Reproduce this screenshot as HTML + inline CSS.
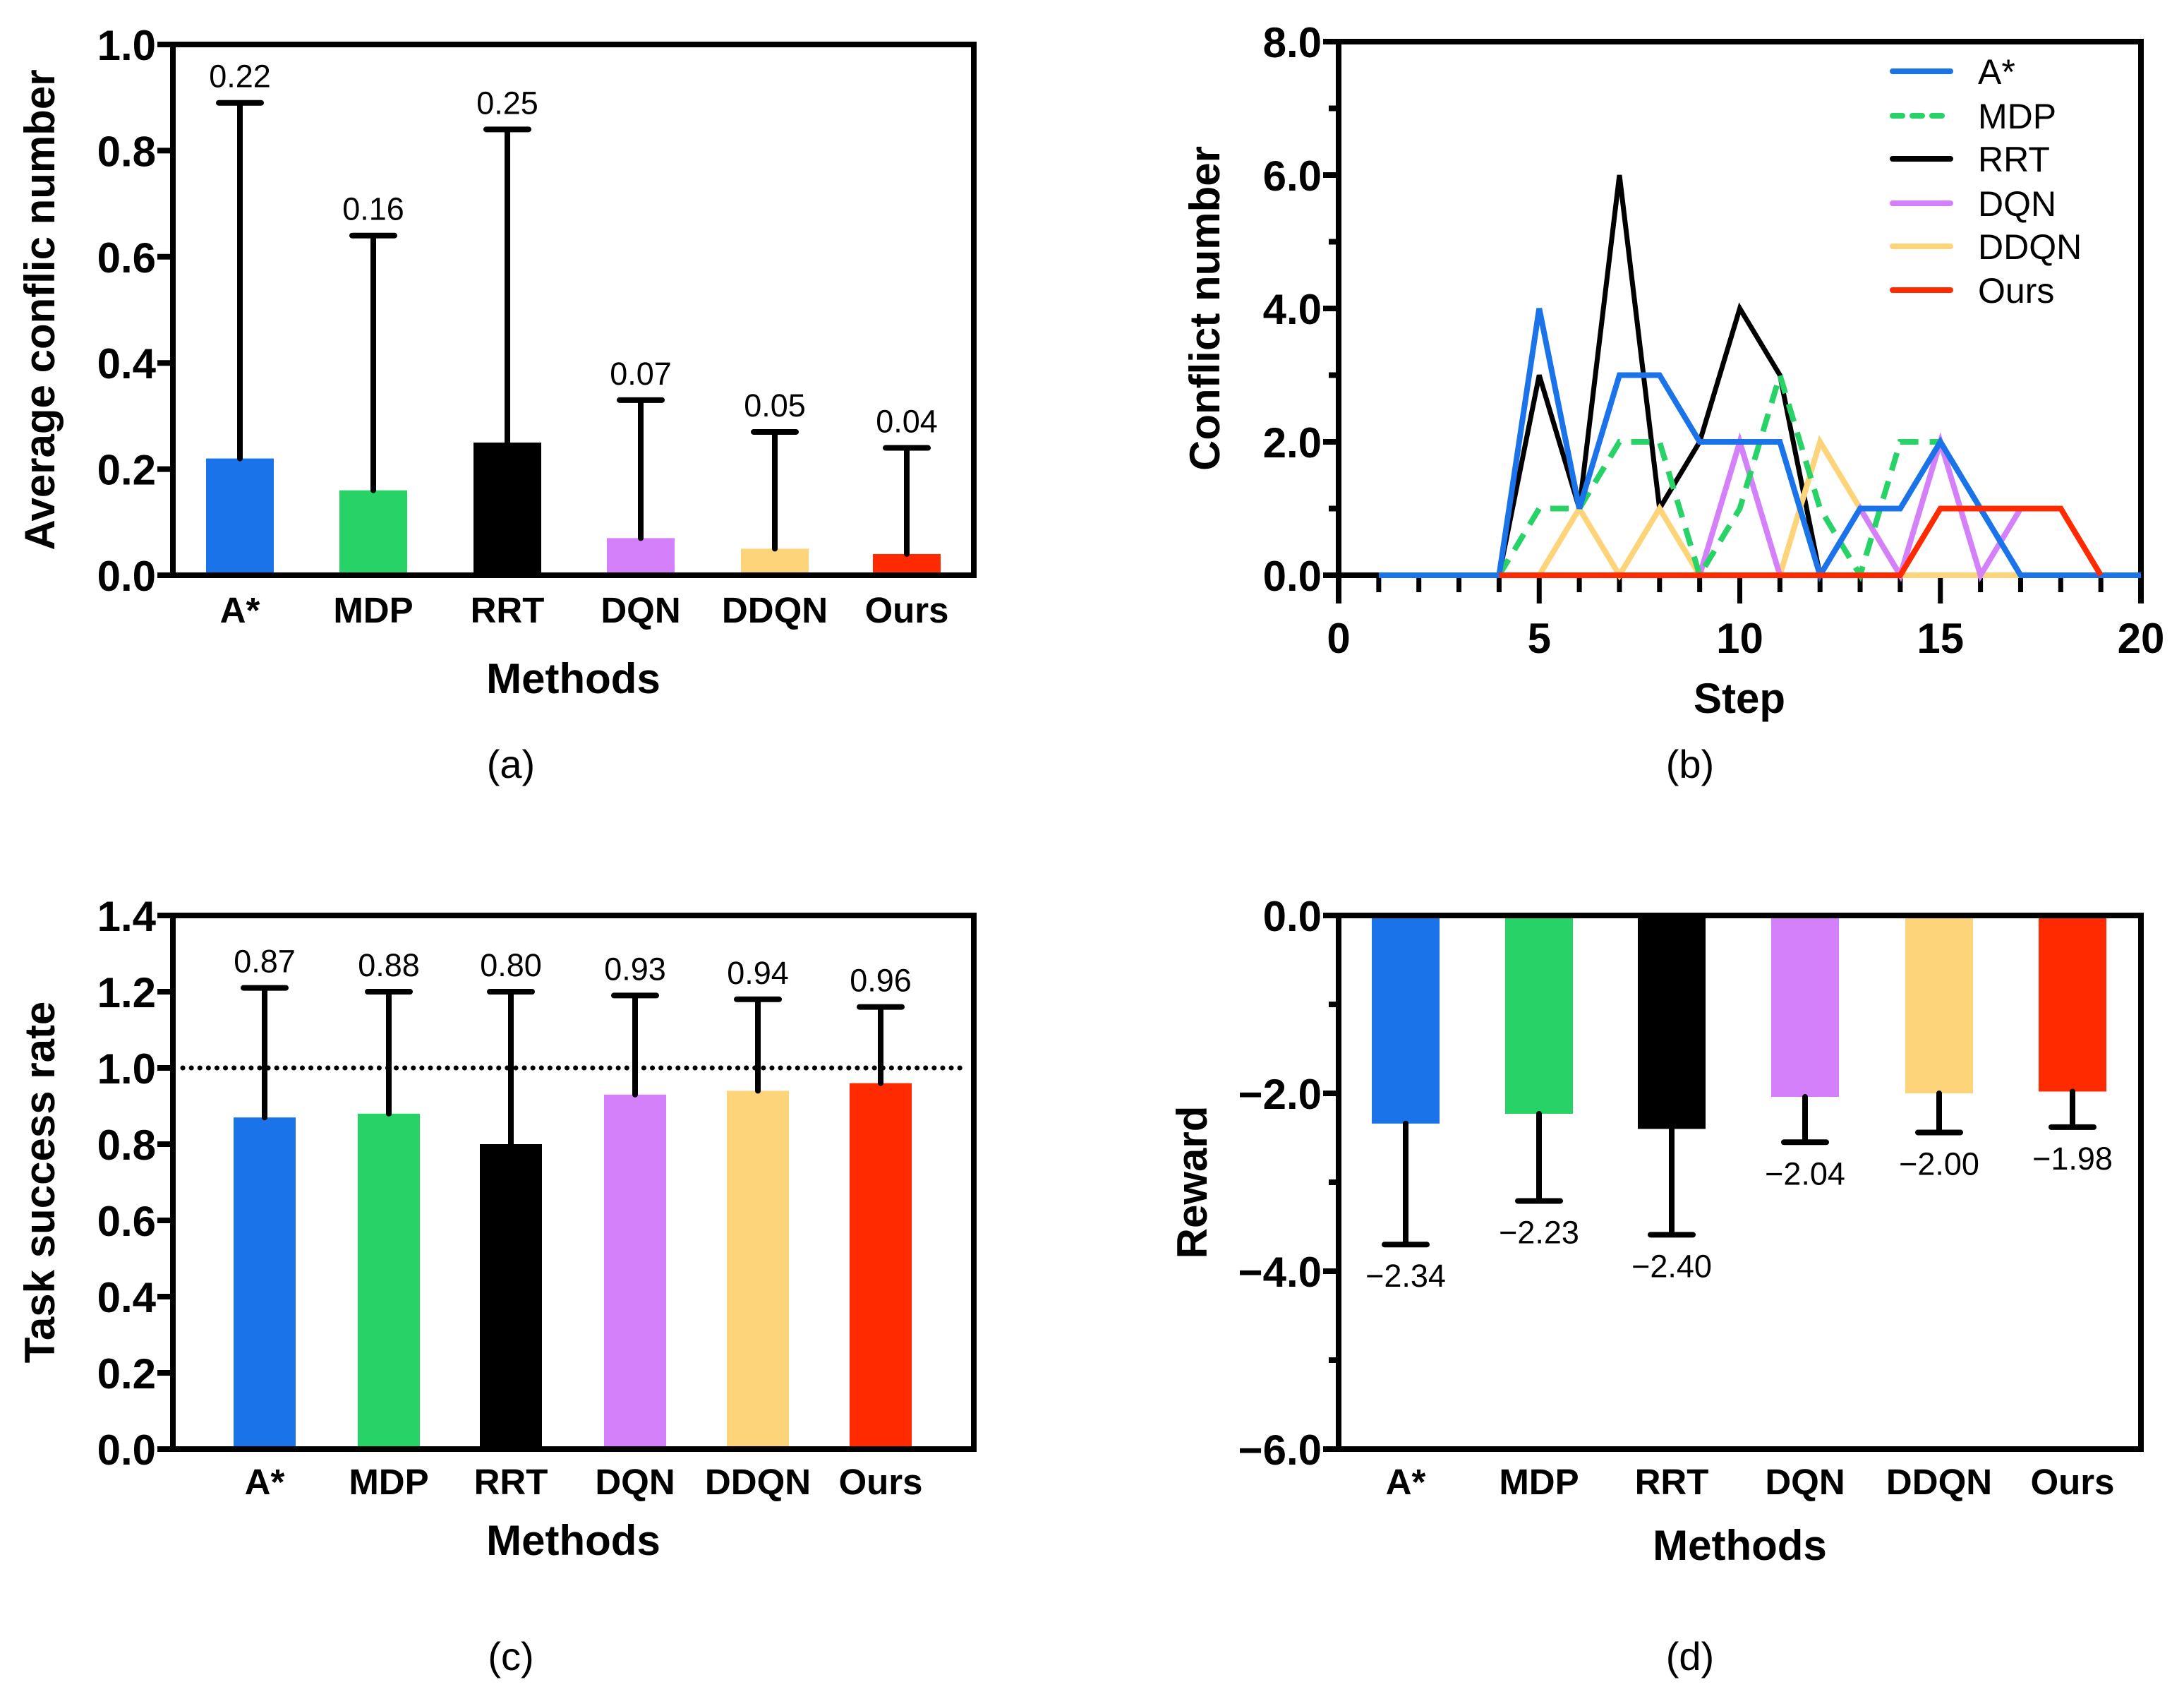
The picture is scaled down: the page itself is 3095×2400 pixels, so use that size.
<!DOCTYPE html>
<html><head><meta charset="utf-8"><style>
html,body{margin:0;padding:0;background:#fff}
svg{display:block}
text{font-family:"Liberation Sans",Arial,sans-serif}
</style></head><body>
<svg id="fig" width="3095" height="2400" viewBox="0 0 3095 2400" xmlns="http://www.w3.org/2000/svg"></svg>
<script>
const methods = ["A*","MDP","RRT","DQN","DDQN","Ours"];
const colors = ["#1a73e8","#27d366","#000000","#d580fb","#fed47a","#ff2a00"];
// (a)
const conflictMean = [0.22,0.16,0.25,0.07,0.05,0.04];
const conflictErrTop = [0.89,0.64,0.84,0.33,0.27,0.24];
const conflictTicks = ["0.0","0.2","0.4","0.6","0.8","1.0"];
// (c)
const successMean = [0.87,0.88,0.80,0.93,0.94,0.96];
const successErrTop = [1.21,1.20,1.20,1.19,1.18,1.16];
const successTicks = ["0.0","0.2","0.4","0.6","0.8","1.0","1.2","1.4"];
// (d)
const rewardMean = [-2.34,-2.23,-2.40,-2.04,-2.00,-1.98];
const rewardErrBottom = [-3.70,-3.21,-3.59,-2.55,-2.44,-2.38];
const rewardTicks = ["0.0","-2.0","-4.0","-6.0"];
// (b)
const lineNames = ["A*","MDP","RRT","DQN","DDQN","Ours"];
const stepsA = [1,2,3,4,5,6,7,8,9,10,11,12,13,14,15,16,17,18,19,20];
const valsA  = [0,0,0,0,4,1,3,3,2,2,2,0,1,1,2,1,0,0,0,0];
const stepsMDP = [4,5,6,7,8,9,10,11,12,13,14,15,16,17];
const valsMDP  = [0,1,1,2,2,0,1,3,1,0,2,2,1,0];
const stepsRRT = [0,1,2,3,4,5,6,7,8,9,10,11,12,13];
const valsRRT  = [0,0,0,0,0,3,1,6,1,2,4,3,0,0];
const stepsDQN = [4,5,6,7,8,9,10,11,12,13,14,15,16,17];
const valsDQN  = [0,0,0,0,0,0,2,0,0,1,0,2,0,1];
const stepsDDQN = [4,5,6,7,8,9,10,11,12,13,14,15,16,17];
const valsDDQN  = [0,0,1,0,1,0,0,0,2,1,0,0,0,0];
const stepsOurs = [4,5,6,7,8,9,10,11,12,13,14,15,16,17,18,19];
const valsOurs  = [0,0,0,0,0,0,0,0,0,0,0,1,1,1,1,0];
const xTicksB = ["0","5","10","15","20"];
const yTicksB = ["0.0","2.0","4.0","6.0","8.0"];

const NS="http://www.w3.org/2000/svg";
const svg=document.getElementById('fig');
function mk(tag,attrs,parent){const e=document.createElementNS(NS,tag);for(const k in attrs)e.setAttribute(k,attrs[k]);(parent||svg).appendChild(e);return e;}
function txt(s,x,y,size,weight,anchor,parent,rot){const t=mk('text',{x:x,y:y,'font-size':size,'font-weight':weight,'text-anchor':anchor||'middle',fill:'#000'},parent);if(rot)t.setAttribute('transform','rotate(-90 '+x+' '+y+')');t.textContent=s;return t;}
function fmtMinus(s){return s.replace('-','\u2212');}

function barPanel(name,L,R,T,B,vmin,vmax,ticks,tickVals,minorStep,means,errs,centers,bw,labelsAbove,ylabel,ylx,lab,labx,caty,methy,dotted,laby){
  const g=mk('g',{});
  
  
  const ys=v=>B-(v-vmin)/(vmax-vmin)*(B-T);
  means.forEach((m,i)=>{
    const y0=ys(0), y1=ys(m);
    const r=mk('rect',{x:centers[i]-bw/2,y:Math.min(y0,y1),width:bw,height:Math.abs(y1-y0),fill:colors[i]},g);
    
    
    const ye=ys(errs[i]);
    const eb=mk('path',{d:'M'+centers[i]+' '+y1+'V'+ye+'M'+(centers[i]-30)+' '+ye+'H'+(centers[i]+30),stroke:'#000','stroke-width':8,'stroke-linecap':'round',fill:'none'},g);
    
    
    const lbl=labelsAbove?txt(m.toFixed(2),centers[i],ye-22,45,'normal','middle',g):txt(fmtMinus(m.toFixed(2)),centers[i],ye+60,45,'normal','middle',g);
    
    
    const c=txt(methods[i],centers[i],caty,51,'bold','middle',g);
    
    
  });
  if(dotted){
    const d=mk('line',{x1:L+14,x2:R-8,y1:ys(1.0),y2:ys(1.0),stroke:'#000','stroke-width':7,'stroke-dasharray':'0.1 12','stroke-linecap':'round'},g);
    
    
  }
  const box=mk('rect',{x:L,y:T,width:R-L,height:B-T,fill:'none',stroke:'#000','stroke-width':8},g);
  
  
  tickVals.forEach((v,i)=>{
    mk('line',{x1:L-22,x2:L,y1:ys(v),y2:ys(v),stroke:'#000','stroke-width':8},g);
    const t=txt(fmtMinus(ticks[i]),L-24,ys(v)+22,60,'bold','end',g);
    
    
  });
  if(minorStep){for(let v=vmin+minorStep;v<vmax;v+=2*minorStep){mk('line',{x1:L-14,x2:L,y1:ys(v),y2:ys(v),stroke:'#000','stroke-width':8},g);}}
  const yl=txt(ylabel,ylx,(T+B)/2,60,'bold','middle',g,true);
  
  
  const xl=txt('Methods',(L+R)/2,methy,60,'bold','middle',g);
  
  
  const pl=txt(lab,labx,laby,56,'normal','middle',g);
  
  
}

// (a)
barPanel('conflict',245,1380,63,815,0,1,conflictTicks,[0,0.2,0.4,0.6,0.8,1.0],0,conflictMean,conflictErrTop,[340,529,719,908,1098,1285],96,true,'Average conflic number',77,'(a)',724,882,982,false,1102);
// (c)
barPanel('success',245,1380,1297,2053,0,1.4,successTicks,[0,0.2,0.4,0.6,0.8,1.0,1.2,1.4],0,successMean,successErrTop,[375,551,724,900,1074,1248],88,true,'Task success rate',77,'(c)',724,2117,2203,true,2366);
// (d)
barPanel('reward',1897,3034,1297,2053,-6,0,rewardTicks,[0,-2,-4,-6],1,rewardMean,rewardErrBottom,[1992,2181,2369,2558,2748,2937],96,false,'Reward',1710,'(d)',2395,2117,2210,false,2366);

// (b) line chart
(function(){
  const L=1897,R=3034,T=59,B=815;
  const g=mk('g',{});
  
  
  const xs=v=>L+v/20*(R-L), ys=v=>B-v/8*(B-T);
  const frame=mk('path',{d:'M'+L+' '+(B+40)+'V'+T+'H'+R+'V'+(B+40),fill:'none',stroke:'#000','stroke-width':8},g);
  
  
  mk('line',{x1:L,x2:R,y1:B,y2:B,stroke:'#000','stroke-width':8},g);
  for(let i=1;i<20;i++){mk('line',{x1:xs(i),x2:xs(i),y1:B,y2:B+(i%5===0?40:24),stroke:'#000','stroke-width':7},g);}
  xTicksB.forEach((s,i)=>{const t=txt(s,xs(i*5),B+110,60,'bold','middle',g);});
  yTicksB.forEach((s,i)=>{mk('line',{x1:L-22,x2:L,y1:ys(i*2),y2:ys(i*2),stroke:'#000','stroke-width':8},g);const t=txt(s,L-24,ys(i*2)+22,60,'bold','end',g);});
  [1,3,5,7].forEach(v=>mk('line',{x1:L-14,x2:L,y1:ys(v),y2:ys(v),stroke:'#000','stroke-width':8},g));
  const series=[[stepsRRT,valsRRT,2],[stepsDDQN,valsDDQN,4],[stepsDQN,valsDQN,3],[stepsMDP,valsMDP,1],[stepsA,valsA,0],[stepsOurs,valsOurs,5]];
  series.forEach(s=>{
    const [xv,yv,ci]=s;
    const d=xv.map((x,i)=>(i?'L':'M')+xs(x)+' '+ys(yv[i])).join('');
    const p=mk('path',{d:d,fill:'none',stroke:colors[ci],'stroke-width':ci===2?7:8,'stroke-linejoin':'miter'},g);
    if(ci===1)p.setAttribute('stroke-dasharray','26 16');
    
    
  });
  const ly=[103,166,227,290,351,413];
  lineNames.forEach((n,i)=>{
    const lg=mk('g',{},g);
    
    
    const ln=mk('line',{x1:2682,x2:2764,y1:ly[i]-2,y2:ly[i]-2,stroke:colors[i],'stroke-width':8,'stroke-linecap':'round'},lg);
    if(i===1)ln.setAttribute('stroke-dasharray','14 14');
    txt(n,2803,ly[i]+16,50,'normal','start',lg);
  });
  const yl=txt('Conflict number',1728,(T+B)/2,60,'bold','middle',g,true);
  
  
  const xl=txt('Step',2465,1010,60,'bold','middle',g);
  
  
  const pl=txt('(b)',2395,1102,56,'normal','middle',g);
  
  
})();
</script>
</body></html>
